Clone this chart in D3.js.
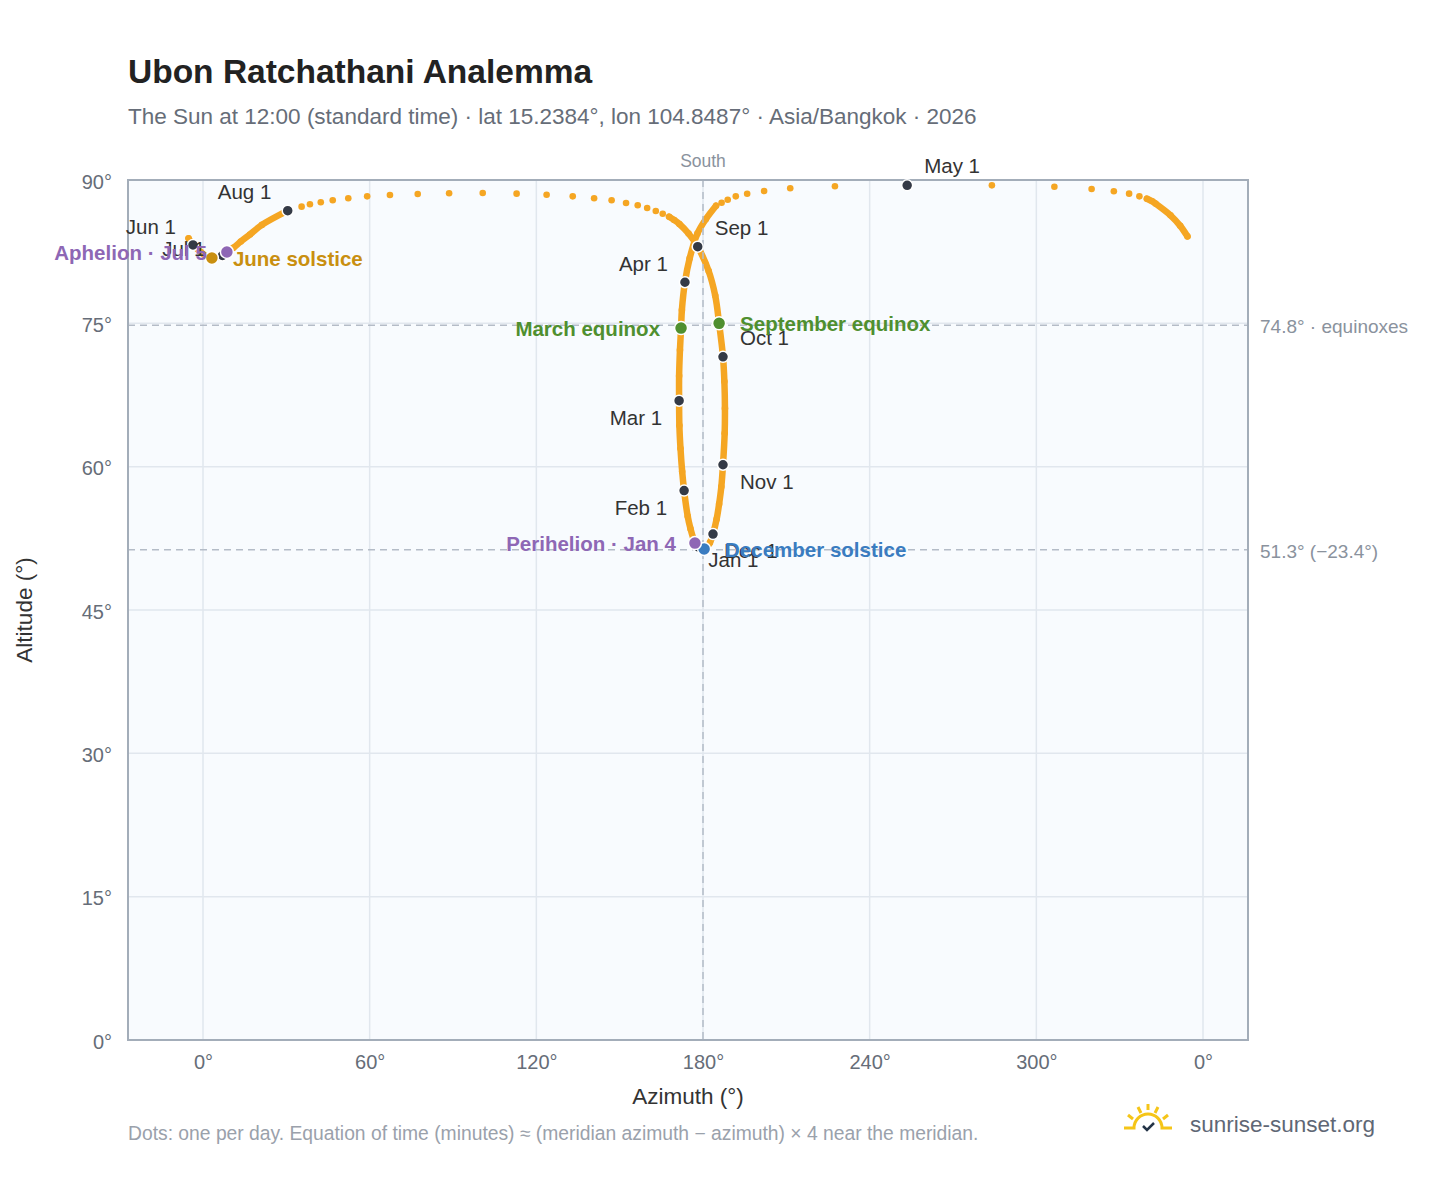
<!DOCTYPE html>
<html><head><meta charset="utf-8">
<script src="https://cdn.jsdelivr.net/npm/d3@7"></script>
<style>body{margin:0;background:#fff;font-family:"Liberation Sans",Arial,sans-serif}</style>
</head><body><svg id="c" width="1448" height="1188"></svg>
<script>
// ---- data ----
const dates = ["01-01","01-04","01-08","01-15","01-22","02-01","02-08","02-15","02-22","03-01","03-08","03-15","03-20","03-25","04-01","04-08","04-15","04-19",
"04-23","04-24","04-25","04-26","04-27","04-28","04-29","04-30","05-01","05-02","05-03","05-04","05-05","05-06","05-07","05-08","05-09","05-10","05-15","05-20","05-25",
"05-27","06-01","06-08","06-15","06-21","07-01","07-05","07-10","07-15","07-20","07-25",
"08-01","08-02","08-03","08-04","08-05","08-06","08-07","08-08","08-09","08-10","08-11","08-12","08-13","08-14","08-15","08-16","08-17","08-18","08-19","08-20","08-21","08-22","08-23","08-25","08-28",
"09-01","09-08","09-15","09-22","10-01","10-08","10-15","10-22","11-01","11-08","11-15","11-22","12-01","12-08","12-15","12-21","12-31"];
const azimuth = [178.3,177.1,176.6,175.5,174.5,173.2,172.5,171.9,171.5,171.4,171.4,171.7,172.1,172.4,173.5,175.2,178.0,181.0,
184.7,186.7,188.9,191.8,195.9,202.0,211.4,227.5,253.5,284.0,306.5,319.9,327.9,333.4,337.1,339.8,341.7,342.9,348.3,351.8,354.4,
354.8,356.4,359.3,361.6,363.2,367.0,368.6,370.9,373.6,376.9,381.2,
390.5,395.5,398.5,402.4,406.7,412.3,419.1,427.3,437.3,448.6,460.7,472.9,483.7,493.1,500.8,507.1,512.3,516.5,519.9,523.0,525.5,527.8,529.6,531.5,534.8,
538.1,542.0,544.4,545.8,547.2,547.7,547.9,547.8,547.2,546.6,545.8,544.9,543.6,542.5,541.4,540.4,538.5];
const altitude = [51.6,52.0,52.4,53.5,54.8,57.5,59.5,61.9,64.3,66.9,69.5,72.2,74.5,76.4,79.3,81.8,84.4,85.9,
87.31,87.62,87.94,88.29,88.56,88.85,89.13,89.34,89.44,89.44,89.30,89.06,88.82,88.57,88.29,88.04,87.77,87.53,86.3,85.2,84.1,
83.9,83.2,82.44,81.94,81.84,82.1,82.47,82.9,83.56,84.3,85.3,
86.79,87.21,87.46,87.67,87.88,88.09,88.29,88.43,88.53,88.61,88.64,88.57,88.46,88.29,88.09,87.88,87.59,87.35,87.07,86.76,86.47,86.16,85.82,85.4,84.4,
83.02,80.5,77.9,75.0,71.5,68.9,66.1,63.5,60.2,57.9,56.1,54.5,52.95,52.05,51.55,51.38,51.6];
// azimuth values above are unwrapped (continuous); the axis shows them modulo 360

const monthDates  = ["01-01","02-01","03-01","04-01","05-01","06-01","07-01","08-01","09-01","10-01","11-01","12-01"];
const monthLabels = ["Jan 1","Feb 1","Mar 1","Apr 1","May 1","Jun 1","Jul 1","Aug 1","Sep 1","Oct 1","Nov 1","Dec 1"];
const eventDates  = ["03-20","09-22","06-21","12-21","01-04","07-05"];
const eventLabels = ["March equinox","September equinox","June solstice","December solstice","Perihelion · Jan 4","Aphelion · Jul 5"];
const refAlts   = [74.8, 51.3];
const refLabels = ["74.8° · equinoxes","51.3° (−23.4°)"];
const xTicks = [0,60,120,180,240,300,360];
const yTicks = [0,15,30,45,60,75,90];

// ---- styles/layout ----
const monthOff = {"Jan 1":[10,20,"start"],"Feb 1":[-17,24,"end"],"Mar 1":[-17,24,"end"],"Apr 1":[-17,-11,"end"],"May 1":[17,-12,"start"],"Jun 1":[-17,-11,"end"],
"Jul 1":[-17,1,"end"],"Aug 1":[-70,-12,"start"],"Sep 1":[17,-12,"start"],"Oct 1":[17,-12,"start"],"Nov 1":[17,24,"start"],"Dec 1":[11,24,"start"]};
const evStyle = {"March equinox":["#4f8f2f",-21,8,"end"],"September equinox":["#4f8f2f",21,8,"start"],"June solstice":["#c98f10",21,8,"start"],
"December solstice":["#3a7cc0",21,8,"start"],"Perihelion · Jan 4":["#8e67b5",-19,8,"end"],"Aphelion · Jul 5":["#8e67b5",-20,8,"end"]};
const ORANGE="#f5a623";

const svg=d3.select("#c");
const L=128,R=1248,T=180,B=1040;
const x=d3.scaleLinear().domain([-27,376.2]).range([L,R]);
const y=d3.scaleLinear().domain([0,90]).range([B,T]);
const wrapAz=a=>{let v=((a%360)+360)%360; return v>354.5?v-360:v;};
const pts=dates.map((d,i)=>({d,az:wrapAz(azimuth[i]),alt:altitude[i],doy:+d3.timeParse("%m-%d")(d)}));
const byDate=new Map(pts.map(p=>[p.d,p]));

svg.append("text").attr("x",128).attr("y",83).attr("font-size",33.5).attr("font-weight","bold").attr("fill","#222").text("Ubon Ratchathani Analemma");
svg.append("text").attr("x",128).attr("y",124).attr("font-size",22.5).attr("fill","#666d78").text("The Sun at 12:00 (standard time) · lat 15.2384°, lon 104.8487° · Asia/Bangkok · 2026");

svg.append("rect").attr("x",L).attr("y",T).attr("width",R-L).attr("height",B-T).attr("fill","#f8fbfe");
const g=svg.append("g");
g.selectAll(".gx").data(xTicks).join("line").attr("x1",d=>x(d)).attr("x2",d=>x(d)).attr("y1",T).attr("y2",B).attr("stroke","#e1e7ee").attr("stroke-width",1.5);
g.selectAll(".gy").data(yTicks).join("line").attr("x1",L).attr("x2",R).attr("y1",d=>y(d)).attr("y2",d=>y(d)).attr("stroke","#e1e7ee").attr("stroke-width",1.5);

// axes
const xa=svg.append("g").attr("transform",`translate(0,${B})`).call(d3.axisBottom(x).tickValues(xTicks).tickSize(0).tickPadding(15).tickFormat(d=>(d%360)+"°"));
const ya=svg.append("g").attr("transform",`translate(${L},0)`).call(d3.axisLeft(y).tickValues(yTicks).tickSize(0).tickPadding(16).tickFormat(d=>d+"°"));
[xa,ya].forEach(a=>{a.select(".domain").remove();a.selectAll("text").attr("font-size",20).attr("fill","#666d78").attr("font-family","Liberation Sans, Arial");});
ya.selectAll("text").attr("dy","0.4em");
svg.append("text").attr("x",688).attr("y",1104).attr("text-anchor","middle").attr("font-size",22.5).attr("fill","#333").text("Azimuth (°)");
svg.append("text").attr("transform","translate(32,610) rotate(-90)").attr("text-anchor","middle").attr("font-size",22.5).attr("fill","#333").text("Altitude (°)");

// reference lines
refAlts.forEach((a,i)=>{
  svg.append("line").attr("x1",L).attr("x2",R).attr("y1",y(a)).attr("y2",y(a)).attr("stroke","#b4bcc7").attr("stroke-width",1.5).attr("stroke-dasharray","7,5");
  svg.append("text").attr("x",R+12).attr("y",y(a)+8).attr("font-size",19).attr("fill","#8a929d").text(refLabels[i]);
});
svg.append("line").attr("x1",x(180)).attr("x2",x(180)).attr("y1",T).attr("y2",B).attr("stroke","#b4bcc7").attr("stroke-width",1.5).attr("stroke-dasharray","7,5");
svg.append("text").attr("x",x(180)).attr("y",167).attr("text-anchor","middle").attr("font-size",17.5).attr("fill","#8a929d").text("South");

// analemma: continuous strokes where daily spacing is small, dots everywhere
const runs=[];let cur=[pts[0]];
for(let i=1;i<pts.length;i++){
  const a=pts[i-1],b=pts[i];const days=(b.doy-a.doy)/864e5;
  const dist=Math.hypot(x(b.az)-x(a.az),y(b.alt)-y(a.alt));
  if(Math.abs(b.az-a.az)>180||dist/days>6){runs.push(cur);cur=[b];}else cur.push(b);
}
runs.push(cur);
const line=d3.line().x(p=>x(p.az)).y(p=>y(p.alt)).curve(d3.curveCatmullRom);
runs.filter(r=>r.length>1).forEach(r=>g.append("path").attr("d",line(r)).attr("fill","none").attr("stroke",ORANGE).attr("stroke-width",6.5).attr("stroke-linecap","round"));
g.selectAll(".dot").data(pts).join("circle").attr("cx",p=>x(p.az)).attr("cy",p=>y(p.alt)).attr("r",3.3).attr("fill",ORANGE);

// border
svg.append("rect").attr("x",L).attr("y",T).attr("width",R-L).attr("height",B-T).attr("fill","none").attr("stroke","#a3adb9").attr("stroke-width",2);

// month markers
monthDates.forEach((d,i)=>{
  const p=byDate.get(d),o=monthOff[monthLabels[i]];
  svg.append("circle").attr("cx",x(p.az)).attr("cy",y(p.alt)).attr("r",5.5).attr("fill","#343a46").attr("stroke","#fff").attr("stroke-width",1.5);
  svg.append("text").attr("x",x(p.az)+o[0]).attr("y",y(p.alt)+o[1]).attr("text-anchor",o[2]).attr("font-size",20.5).attr("fill","#333").text(monthLabels[i]);
});
// events
eventDates.forEach((d,i)=>{
  const p=byDate.get(d),s=evStyle[eventLabels[i]];
  svg.append("circle").attr("cx",x(p.az)).attr("cy",y(p.alt)).attr("r",6.5).attr("fill",s[0]).attr("stroke","#fff").attr("stroke-width",1.5);
  svg.append("text").attr("x",x(p.az)+s[1]).attr("y",y(p.alt)+s[2]).attr("text-anchor",s[3]).attr("font-size",20.5).attr("font-weight","bold").attr("fill",s[0]).text(eventLabels[i]);
});

svg.append("text").attr("x",128).attr("y",1140).attr("font-size",19.3).attr("fill","#9aa1ab").text("Dots: one per day. Equation of time (minutes) ≈ (meridian azimuth − azimuth) × 4 near the meridian.");
// logo
const lg=svg.append("g").attr("transform","translate(1148,1128)");
lg.append("path").attr("d","M-24,0 H-14 A14,14 0 0 1 14,0 H24").attr("fill","none").attr("stroke","#f5c518").attr("stroke-width",3);
[[-20,-13,-15,-9],[-10,-21,-7,-15],[0,-24,0,-18],[10,-21,7,-15],[20,-13,15,-9]].forEach(l=>lg.append("line").attr("x1",l[0]).attr("y1",l[1]).attr("x2",l[2]).attr("y2",l[3]).attr("stroke","#f5c518").attr("stroke-width",3));
lg.append("path").attr("d","M-5,-2 L-1,2 L6,-5").attr("fill","none").attr("stroke","#243447").attr("stroke-width",2.5);
svg.append("text").attr("x",1190).attr("y",1132).attr("font-size",22.5).attr("fill","#5f6775").text("sunrise-sunset.org");
</script></body></html>
